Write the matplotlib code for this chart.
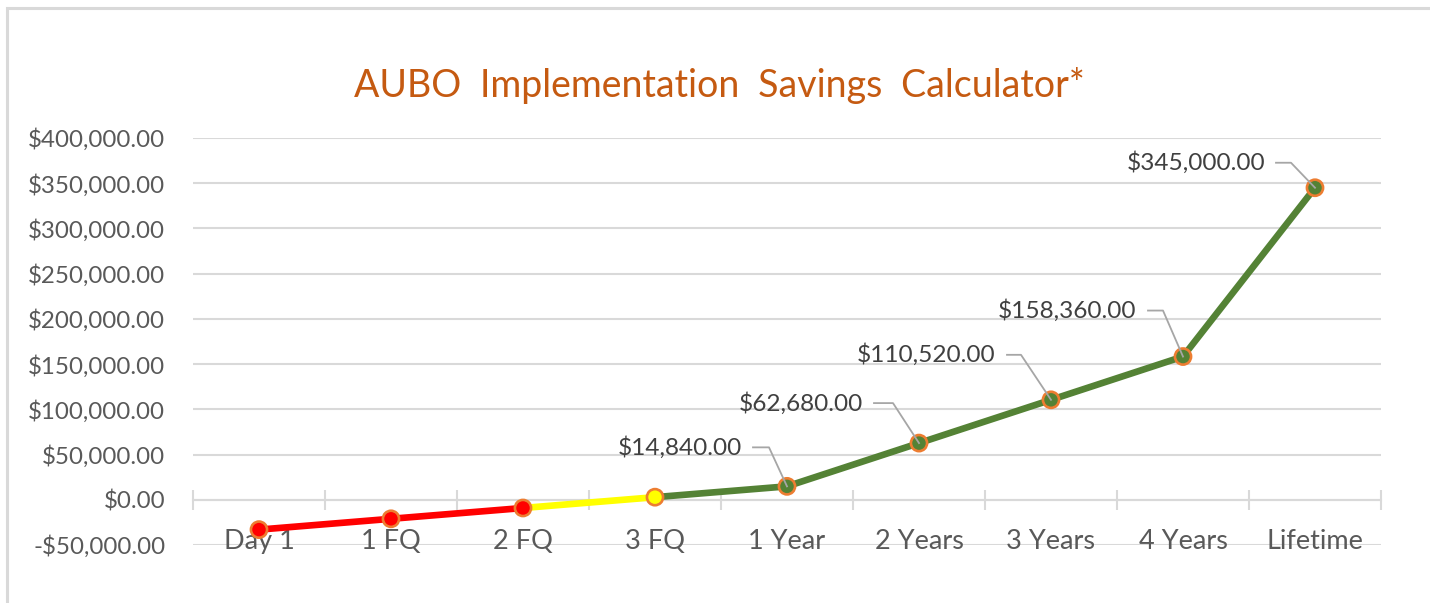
import matplotlib
matplotlib.use("Agg")
import matplotlib.pyplot as plt
from matplotlib.patches import Rectangle
from matplotlib.lines import Line2D
import numpy as np

# ---- data ----
categories = ["Day 1", "1 FQ", "2 FQ", "3 FQ", "1 Year", "2 Years", "3 Years", "4 Years", "Lifetime"]
savings = [-33000, -21040, -9080, 2880, 14840, 62680, 110520, 158360, 345000]
# segment colour groups: index ranges (inclusive) of the line
red_range = (0, 2)
yellow_range = (2, 3)
green_range = (3, 8)
labelled = [4, 5, 6, 7, 8]
y_ticks = [-50000, 0, 50000, 100000, 150000, 200000, 250000, 300000, 350000, 400000]
title = "AUBO Implementation Savings Calculator*"

# ---- styling / layout ----
# label offsets in pixels: (text right dx, leader start dx, leader end dx, dy up)
label_offsets = {4: (-45, -34, -18, 39), 5: (-56, -45, -26, 40), 6: (-56, -44, -30, 45),
                 7: (-47, -35, -20, 46), 8: (-50, -39, -24, 25)}

FONT = "Lato"
W, H, DPI = 1430, 603, 100
fig = plt.figure(figsize=(W / DPI, H / DPI), dpi=DPI)
fig.patch.set_facecolor("white")

# outer chart border
fig.patches.append(Rectangle((7 / W, -0.1), 1.2, (H - 8) / H + 0.1, transform=fig.transFigure,
                             fill=False, edgecolor="#d9d9d9", linewidth=2.2))

ax = fig.add_axes([193 / W, (H - 545) / H, (1381 - 193) / W, (545 - 138) / H])
ax.set_facecolor("none")
x = np.arange(len(categories))
ax.set_xlim(-0.5, len(categories) - 0.5)
ax.set_ylim(y_ticks[0], y_ticks[-1])

for s in ax.spines.values():
    s.set_visible(False)
ax.set_yticks(y_ticks)
ax.set_yticklabels([("-" if v < 0 else "") + "${:,.2f}".format(abs(v)) for v in y_ticks],
                   fontsize=17.4, color="#595959", fontfamily=FONT)
ax.tick_params(axis="y", length=0, pad=20)
ax.grid(axis="y", color="#d9d9d9", linewidth=1.5)
ax.set_axisbelow(True)

# category axis at zero
ax.spines["bottom"].set_visible(True)
ax.spines["bottom"].set_position(("data", 0))
ax.spines["bottom"].set_color("#d9d9d9")
ax.spines["bottom"].set_linewidth(1.5)
ax.set_xticks(x)
ax.set_xticklabels([])
ax.tick_params(axis="x", which="major", length=0)
ax.set_xticks(np.arange(len(categories) + 1) - 0.5, minor=True)
ax.tick_params(axis="x", which="minor", direction="inout", length=14, width=1.5, color="#d9d9d9")
for xi, c in zip(x, categories):
    ax.text(xi, -46000, c, ha="center", va="center", fontsize=19.5, color="#595959",
            fontfamily=FONT, zorder=1)

# line segments
lw = 4.8
for (a, b), col in [(red_range, "#ff0000"), (yellow_range, "#ffff00"), (green_range, "#548235")]:
    ax.plot(x[a:b + 1], savings[a:b + 1], color=col, linewidth=lw, solid_capstyle="butt", zorder=3)

# markers
mcols = ["#ff0000"] * 3 + ["#ffff00"] + ["#548235"] * 5
ax.scatter(x, savings, s=135, c=mcols, edgecolors="#ed7d31", linewidths=1.9, zorder=5)

# data labels with leader lines (pixel space)
for i in labelled:
    px, py = ax.transData.transform((x[i], savings[i]))
    tdx, l0, l1, dy = label_offsets[i]
    ly = py + dy
    fig.add_artist(Line2D([px + l0, px + l1, px], [ly, ly, py], transform=None,
                          color="#a6a6a6", linewidth=1.3, zorder=4))
    fig.text((px + tdx) / W, ly / H, "${:,.2f}".format(savings[i]), ha="right", va="center",
             fontsize=17.6, color="#404040", fontfamily=FONT)

fig.text(719 / W, (H - 86) / H, title.replace(" ", "\u2002"), ha="center", va="center",
         fontsize=27, color="#c55a11", fontfamily=[FONT, "DejaVu Sans"])

fig.savefig("out.png", dpi=DPI)
